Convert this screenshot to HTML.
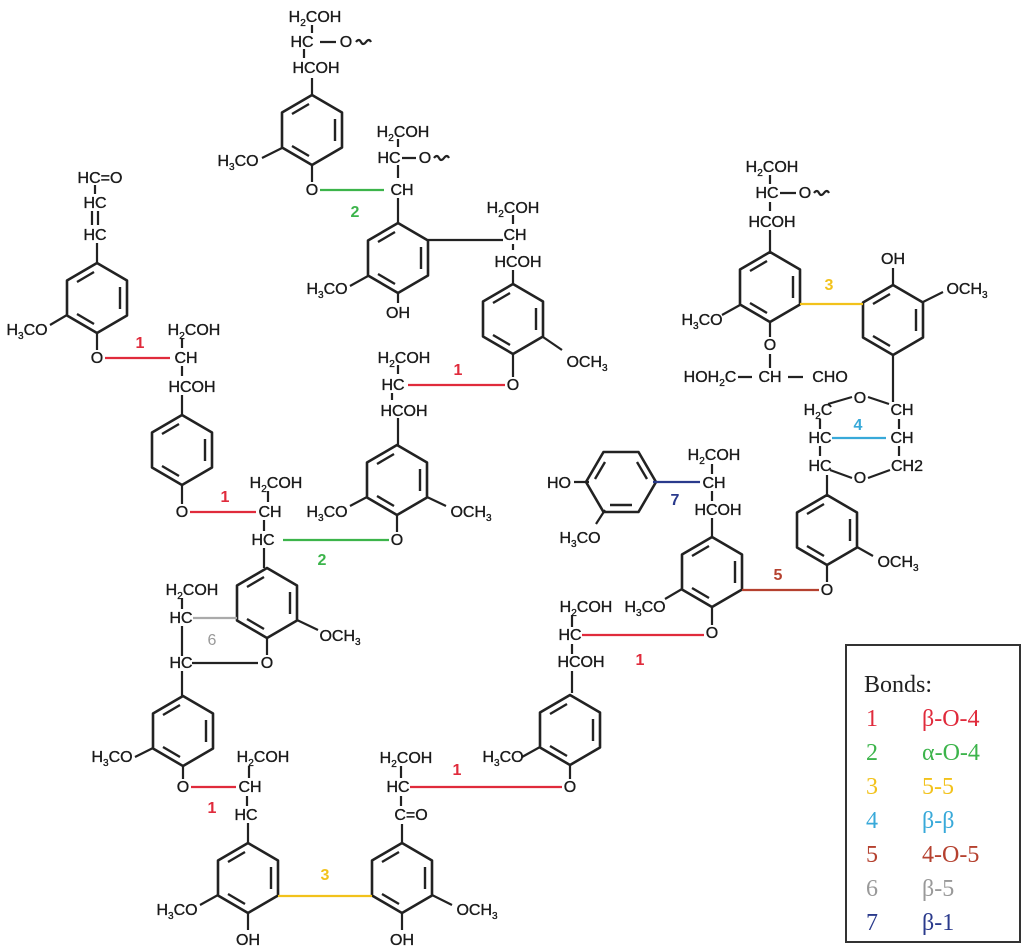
<!DOCTYPE html>
<html><head><meta charset="utf-8"><style>
html,body{margin:0;padding:0;background:#fff}
svg{display:block}
.t{font-family:"Liberation Sans",Arial,sans-serif;font-size:16px;fill:#1a1a1a;stroke:#1a1a1a;stroke-width:0.35;text-anchor:middle}
.s{font-size:10px}
.n{font-family:"Liberation Sans",Arial,sans-serif;font-size:16px;font-weight:bold;text-anchor:middle}
.lg{font-family:"Liberation Serif",serif;font-size:24px}
.b{stroke:#222;stroke-width:2.2;fill:none}
</style></head><body>
<svg width="1024" height="950" viewBox="0 0 1024 950" xmlns="http://www.w3.org/2000/svg">
<defs>
<g id="r">
<polygon points="0,-35 30,-17.5 30,17.5 0,35 -30,17.5 -30,-17.5" fill="none" stroke="#222" stroke-width="2.6" stroke-linejoin="round"/>
<path d="M23,-11 V11 M-3,26 L-20,16 M-20,-16 L-3,-26" stroke="#222" stroke-width="2.4" fill="none"/>
</g>
</defs>

<use href="#r" x="312" y="130"/>
<use href="#r" x="398" y="258"/>
<use href="#r" x="513" y="319"/>
<use href="#r" x="97" y="298"/>
<use href="#r" x="182" y="450"/>
<use href="#r" x="397" y="480"/>
<use href="#r" x="267" y="603"/>
<use href="#r" x="183" y="731"/>
<use href="#r" x="248" y="878"/>
<use href="#r" x="402" y="878"/>
<use href="#r" x="570" y="730"/>
<use href="#r" x="712" y="572"/>
<g transform="translate(621,482) rotate(90)"><use href="#r"/></g>
<use href="#r" x="827" y="530"/>
<use href="#r" x="770" y="287"/>
<use href="#r" x="893" y="320"/>

<g class="b">
<path d="M312,25 V33 M304,49 V58 M312,78 V95"/>
<path d="M320,42 H336 M356,42 q3,-4 5,0 t5,0 t5,0" />
<path d="M282,148 L262,158 M312,165 V182"/>
<path d="M398,139 V147 M398,165 V178 M398,198 V223"/>
<path d="M428,240 H503 M513,215 V224 M513,244 V250 M513,270 V284"/>
<path d="M402,158 H416 M434,158 q3,-4 5,0 t5,0 t5,0"/>
<path d="M368,276 L350,286 M398,293 V303"/>
<path d="M543,337 L562,350 M513,354 V377"/>
<path d="M398,365 V374 M392,393 V400 M398,418 V445"/>
<path d="M367,497 L350,506 M427,497 L446,506 M397,515 V532"/>
<path d="M95,185 V194 M92,211 V225 M98,211 V225 M97,243 V263"/>
<path d="M67,315 L50,325 M97,333 V350"/>
<path d="M182,338 V348 M182,366 V376 M182,395 V415"/>
<path d="M182,485 V504"/>
<path d="M268,491 V502 M264,520 V531 M264,548 V568"/>
<path d="M297,620 L318,630 M267,638 V655"/>
<path d="M182,598 V609 M182,626 V656 M192,663 H258 M182,671 V696"/>
<path d="M153,748 L135,757 M183,766 V779"/>
<path d="M249,766 V778 M247,796 V806 M248,823 V843"/>
<path d="M218,895 L200,905 M248,913 V930"/>
<path d="M432,895 L452,905 M402,913 V930"/>
<path d="M401,766 V778 M401,796 V806 M402,824 V843"/>
<path d="M540,747 L522,757 M570,765 V779"/>
<path d="M572,615 V627 M572,644 V654 M572,671 V693"/>
<path d="M682,589 L665,599 M712,607 V625"/>
<path d="M712,464 V474 M712,491 V501 M712,518 V537"/>
<path d="M574,482 H589 M605,510 L596,524"/>
<path d="M857,547 L873,556 M827,565 V582"/>
<path d="M770,175 V184 M780,193 H796 M814,193 q3,-4 5,0 t5,0 t5,0 M770,202 V211 M770,230 V252"/>
<path d="M740,305 L722,315 M770,322 V337 M770,354 V368"/>
<path d="M738,377 H752 M788,377 H803"/>
<path d="M893,285 V268 M923,302 L943,292"/>
<path d="M893,355 V402"/>
<path d="M828,404 L852,397 M868,397 L889,404 M820,419 V429 M899,419 V429 M820,446 V456 M899,446 V456 M830,470 L852,478 M868,478 L890,470 M827,497 V475"/>
</g>

<g stroke-width="2.2" fill="none">
<path d="M320,190 H384" stroke="#3cb44b"/>
<path d="M408,385 H505" stroke="#e02b3c"/>
<path d="M283,540 H389" stroke="#3cb44b"/>
<path d="M105,358 H170" stroke="#e02b3c"/>
<path d="M190,512 H256" stroke="#e02b3c"/>
<path d="M193,618 H237" stroke="#aaa"/>
<path d="M191,787 H236" stroke="#e02b3c"/>
<path d="M410,787 H562" stroke="#e02b3c"/>
<path d="M582,635 H704" stroke="#e02b3c"/>
<path d="M742,590 H819" stroke="#b5412f"/>
<path d="M653,482 H700" stroke="#2a3a8c"/>
<path d="M278,896 H372" stroke="#f2c21b"/>
<path d="M800,304 H863" stroke="#f2c21b"/>
<path d="M832,438 H886" stroke="#38a9d9"/>
</g>

<g class="t">
<text x="315" y="22">H<tspan class="s" dy="4">2</tspan><tspan dy="-4">COH</tspan></text>
<text x="302" y="47">HC</text><text x="346" y="47">O</text>
<text x="316" y="73">HCOH</text>
<text x="238" y="166">H<tspan class="s" dy="4">3</tspan><tspan dy="-4">CO</tspan></text>
<text x="312" y="195">O</text>
<text x="403" y="137">H<tspan class="s" dy="4">2</tspan><tspan dy="-4">COH</tspan></text>
<text x="389" y="163">HC</text><text x="425" y="163">O</text>
<text x="402" y="195">CH</text>
<text x="327" y="294">H<tspan class="s" dy="4">3</tspan><tspan dy="-4">CO</tspan></text>
<text x="398" y="318">OH</text>
<text x="513" y="213">H<tspan class="s" dy="4">2</tspan><tspan dy="-4">COH</tspan></text>
<text x="515" y="240">CH</text>
<text x="518" y="267">HCOH</text>
<text x="587" y="367">OCH<tspan class="s" dy="4">3</tspan></text>
<text x="513" y="390">O</text>
<text x="404" y="363">H<tspan class="s" dy="4">2</tspan><tspan dy="-4">COH</tspan></text>
<text x="393" y="390">HC</text>
<text x="404" y="416">HCOH</text>
<text x="327" y="517">H<tspan class="s" dy="4">3</tspan><tspan dy="-4">CO</tspan></text>
<text x="471" y="517">OCH<tspan class="s" dy="4">3</tspan></text>
<text x="397" y="545">O</text>
<text x="100" y="183">HC=O</text>
<text x="95" y="208">HC</text>
<text x="95" y="240">HC</text>
<text x="27" y="335">H<tspan class="s" dy="4">3</tspan><tspan dy="-4">CO</tspan></text>
<text x="97" y="363">O</text>
<text x="194" y="335">H<tspan class="s" dy="4">2</tspan><tspan dy="-4">COH</tspan></text>
<text x="186" y="363">CH</text>
<text x="192" y="392">HCOH</text>
<text x="182" y="517">O</text>
<text x="276" y="488">H<tspan class="s" dy="4">2</tspan><tspan dy="-4">COH</tspan></text>
<text x="270" y="517">CH</text>
<text x="263" y="545">HC</text>
<text x="340" y="641">OCH<tspan class="s" dy="4">3</tspan></text>
<text x="267" y="668">O</text>
<text x="192" y="595">H<tspan class="s" dy="4">2</tspan><tspan dy="-4">COH</tspan></text>
<text x="181" y="623">HC</text>
<text x="181" y="668">HC</text>
<text x="112" y="762">H<tspan class="s" dy="4">3</tspan><tspan dy="-4">CO</tspan></text>
<text x="183" y="792">O</text>
<text x="263" y="762">H<tspan class="s" dy="4">2</tspan><tspan dy="-4">COH</tspan></text>
<text x="250" y="792">CH</text>
<text x="246" y="820">HC</text>
<text x="177" y="915">H<tspan class="s" dy="4">3</tspan><tspan dy="-4">CO</tspan></text>
<text x="248" y="945">OH</text>
<text x="477" y="915">OCH<tspan class="s" dy="4">3</tspan></text>
<text x="402" y="945">OH</text>
<text x="406" y="763">H<tspan class="s" dy="4">2</tspan><tspan dy="-4">COH</tspan></text>
<text x="398" y="792">HC</text>
<text x="411" y="820">C=O</text>
<text x="503" y="762">H<tspan class="s" dy="4">3</tspan><tspan dy="-4">CO</tspan></text>
<text x="570" y="792">O</text>
<text x="586" y="612">H<tspan class="s" dy="4">2</tspan><tspan dy="-4">COH</tspan></text>
<text x="570" y="640">HC</text>
<text x="581" y="667">HCOH</text>
<text x="645" y="612">H<tspan class="s" dy="4">3</tspan><tspan dy="-4">CO</tspan></text>
<text x="712" y="638">O</text>
<text x="827" y="595">O</text>
<text x="714" y="460">H<tspan class="s" dy="4">2</tspan><tspan dy="-4">COH</tspan></text>
<text x="714" y="488">CH</text>
<text x="718" y="515">HCOH</text>
<text x="559" y="488">HO</text>
<text x="580" y="543">H<tspan class="s" dy="4">3</tspan><tspan dy="-4">CO</tspan></text>
<text x="898" y="567">OCH<tspan class="s" dy="4">3</tspan></text>
<text x="772" y="172">H<tspan class="s" dy="4">2</tspan><tspan dy="-4">COH</tspan></text>
<text x="767" y="198">HC</text><text x="805" y="198">O</text>
<text x="772" y="227">HCOH</text>
<text x="702" y="325">H<tspan class="s" dy="4">3</tspan><tspan dy="-4">CO</tspan></text>
<text x="770" y="350">O</text>
<text x="710" y="382">HOH<tspan class="s" dy="4">2</tspan><tspan dy="-4">C</tspan></text>
<text x="770" y="382">CH</text>
<text x="830" y="382">CHO</text>
<text x="893" y="264">OH</text>
<text x="967" y="294">OCH<tspan class="s" dy="4">3</tspan></text>
<text x="818" y="415">H<tspan class="s" dy="4">2</tspan><tspan dy="-4">C</tspan></text>
<text x="860" y="403">O</text>
<text x="902" y="415">CH</text>
<text x="820" y="443">HC</text>
<text x="902" y="443">CH</text>
<text x="820" y="471">HC</text>
<text x="860" y="483">O</text>
<text x="907" y="471">CH2</text>
</g>

<g class="n">
<text x="355" y="217" fill="#3cb44b">2</text>
<text x="458" y="375" fill="#e02b3c">1</text>
<text x="322" y="565" fill="#3cb44b">2</text>
<text x="140" y="348" fill="#e02b3c">1</text>
<text x="225" y="502" fill="#e02b3c">1</text>
<text x="212" y="645" fill="#999" font-weight="normal">6</text>
<text x="212" y="813" fill="#e02b3c">1</text>
<text x="325" y="880" fill="#f2c21b">3</text>
<text x="457" y="775" fill="#e02b3c">1</text>
<text x="640" y="665" fill="#e02b3c">1</text>
<text x="778" y="580" fill="#b5412f">5</text>
<text x="675" y="505" fill="#2a3a8c">7</text>
<text x="829" y="290" fill="#f2c21b">3</text>
<text x="858" y="430" fill="#38a9d9">4</text>
</g>

<rect x="846" y="645" width="174" height="297" fill="none" stroke="#333" stroke-width="2"/>
<g class="lg">
<text x="864" y="692" fill="#222">Bonds:</text>
<text x="866" y="726" fill="#e02b3c">1</text><text x="922" y="726" fill="#e02b3c">β-O-4</text>
<text x="866" y="760" fill="#3cb44b">2</text><text x="922" y="760" fill="#3cb44b">α-O-4</text>
<text x="866" y="794" fill="#f2c21b">3</text><text x="922" y="794" fill="#f2c21b">5-5</text>
<text x="866" y="828" fill="#38a9d9">4</text><text x="922" y="828" fill="#38a9d9">β-β</text>
<text x="866" y="862" fill="#b5412f">5</text><text x="922" y="862" fill="#b5412f">4-O-5</text>
<text x="866" y="896" fill="#999">6</text><text x="922" y="896" fill="#999">β-5</text>
<text x="866" y="930" fill="#2a3a8c">7</text><text x="922" y="930" fill="#2a3a8c">β-1</text>
</g>
</svg>
</body></html>
